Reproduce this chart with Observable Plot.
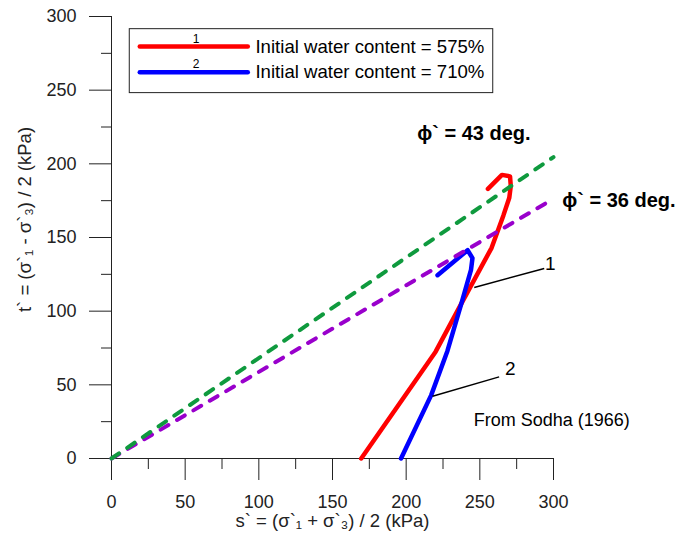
<!DOCTYPE html>
<html><head><meta charset="utf-8">
<script src="https://cdn.jsdelivr.net/npm/d3@7"></script>
<script src="https://cdn.jsdelivr.net/npm/@observablehq/plot@0.6"></script>
<style>body{margin:0;background:#fff;} #chart svg{display:block;}</style>
</head><body><div id="chart"></div>
<script>
// ---- data ----
const xTicks = [0, 50, 100, 150, 200, 250, 300];
const xMinor = [25, 75, 125, 175, 225, 275];
const yTicks = [0, 50, 100, 150, 200, 250, 300];
const yMinor = [25, 75, 125, 175, 225, 275];

// stress path 1 (initial water content 575%)
const path1S = [169.5, 220, 239, 258, 266, 270, 271, 270.5, 265, 255.5];
const path1T = [0, 72.5, 108, 143, 165, 177, 185, 191.5, 192.5, 183];
// stress path 2 (initial water content 710%)
const path2S = [196.5, 217, 228, 238, 244, 245, 241.7, 221.3];
const path2T = [0, 43, 73, 107, 128, 136, 141.4, 124.4];

// failure envelopes
const env43S = [0, 300];
const env43T = [0, 204.6];
const env36S = [0, 300];
const env36T = [0, 176.3];

const legendLabels = ["Initial water content = 575%", "Initial water content = 710%"];
const legendNums = ["1", "2"];
const pathColors = ["#ff0000", "#0000ff"];
const envColors = ["#0f9a3e", "#9900cc"];
const envLabels = ["\u03D5` = 43 deg.", "\u03D5` = 36 deg."];
const curveLabels = ["1", "2"];
const sourceNote = "From Sodha (1966)";
const xTitle = "s` = (\u03C3`\u2081 + \u03C3`\u2083) / 2 (kPa)";
const yTitle = "t` = (\u03C3`\u2081 - \u03C3`\u2083) / 2 (kPa)";

// ---- build tables ----
const p1 = path1S.map((s, i) => ({s, t: path1T[i]}));
const p2 = path2S.map((s, i) => ({s, t: path2T[i]}));
const e43 = env43S.map((s, i) => ({s, t: env43T[i]}));
const e36 = env36S.map((s, i) => ({s, t: env36T[i]}));
const legend = legendLabels.map((label, i) => ({label, num: legendNums[i], color: pathColors[i]}));

const fontFamily = "Arial, 'Liberation Sans', sans-serif";
const legY = [279.6, 262.2];

const chart = Plot.plot({
  width: 678, height: 535,
  marginLeft: 111, marginRight: 125, marginTop: 16, marginBottom: 77,
  x: {domain: [0, 300], axis: null},
  y: {domain: [0, 300], axis: null},
  style: {fontFamily, fontSize: "18px", background: "#fff", color: "#222"},
  marks: [
    // axes
    Plot.axisX({ticks: xMinor, tickSize: 11, tickFormat: () => "", label: null}),
    Plot.axisX({ticks: xTicks, tickSize: 22, tickPadding: 15, fontSize: 18, tickFormat: d => String(d), label: null}),
    Plot.axisY({ticks: yMinor, tickSize: 10, tickFormat: () => "", label: null}),
    Plot.axisY({ticks: yTicks, tickSize: 22, tickPadding: 13, fontSize: 18, tickFormat: d => String(d), label: null}),
    Plot.ruleY([0], {x1: 0, x2: 300, stroke: "#222"}),
    Plot.ruleX([0], {y1: 0, y2: 300, stroke: "#222"}),
    // stress paths
    Plot.line(p1, {x: "s", y: "t", stroke: pathColors[0], strokeWidth: 4.5, strokeLinejoin: "round", strokeLinecap: "round"}),
    Plot.line(p2, {x: "s", y: "t", stroke: pathColors[1], strokeWidth: 4.5, strokeLinejoin: "round", strokeLinecap: "round"}),
    // envelopes
    Plot.line(e36, {x: "s", y: "t", stroke: envColors[1], strokeWidth: 4, strokeDasharray: "9,10", strokeLinecap: "round"}),
    Plot.line(e43, {x: "s", y: "t", stroke: envColors[0], strokeWidth: 4, strokeDasharray: "9,10", strokeLinecap: "round"}),
    // envelope labels
    Plot.text([envLabels[0]], {x: 207.5, y: 220.4, text: d => d, textAnchor: "start", fontWeight: "bold", fontSize: 20, fill: "#000", clip: false}),
    Plot.text([envLabels[1]], {x: 305.9, y: 175.1, text: d => d, textAnchor: "start", fontWeight: "bold", fontSize: 20, fill: "#000", clip: false}),
    // leader lines and curve labels
    Plot.link([curveLabels[0]], {x1: 246.2, y1: 116.1, x2: 293.7, y2: 128.9, stroke: "#000", strokeWidth: 1.5}),
    Plot.link([curveLabels[1]], {x1: 217.9, y1: 42.3, x2: 263.1, y2: 55.4, stroke: "#000", strokeWidth: 1.5}),
    Plot.text([curveLabels[0]], {x: 297.9, y: 132.4, text: d => d, fontSize: 19, fill: "#000"}),
    Plot.text([curveLabels[1]], {x: 270.7, y: 60.6, text: d => d, fontSize: 19, fill: "#000"}),
    Plot.text([sourceNote], {x: 245.9, y: 25.8, text: d => d, textAnchor: "start", fontSize: 18, fill: "#000"}),
    // legend
    Plot.rect([0], {x1: 12.4, x2: 259.1, y1: 248.0, y2: 291.4, fill: "#fff", stroke: "#222", strokeWidth: 1}),
    Plot.link(legend, {x1: 19.2, x2: 92.5, y1: (d, i) => legY[i], y2: (d, i) => legY[i], stroke: d => d.color, strokeWidth: 4.5, strokeLinecap: "round"}),
    Plot.text(legend, {x: 97.7, y: (d, i) => legY[i], text: "label", textAnchor: "start", fontSize: 18.6, fill: "#000"}),
    Plot.text(legend, {x: 57.5, y: (d, i) => legY[i] + 5.3, text: "num", fontSize: 12, fill: "#000"}),
    // axis titles
    Plot.text([xTitle], {frameAnchor: "bottom", dy: 63, lineAnchor: "middle", textAnchor: "middle", text: d => d, fontSize: 18.5, fill: "#222"}),
    Plot.text([yTitle], {frameAnchor: "left", dx: -86, dy: -18, rotate: -90, lineAnchor: "middle", textAnchor: "middle", text: d => d, fontSize: 18.5, fill: "#222"})
  ]
});
document.getElementById("chart").append(chart);
</script>
</body></html>
